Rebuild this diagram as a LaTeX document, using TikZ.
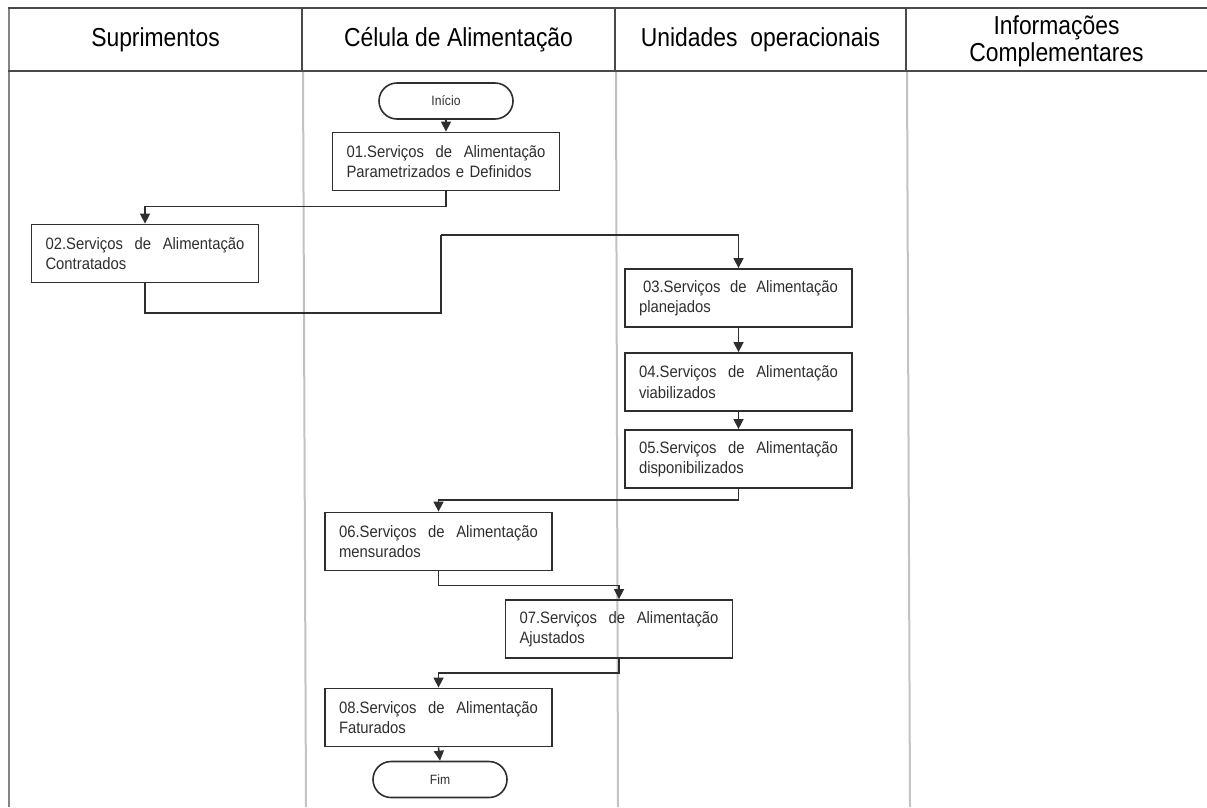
\documentclass[tikz,border=0pt]{standalone}
\usepackage{fontspec}
\setmainfont{Liberation Sans}
\newfontfamily\narrowsans{Liberation Sans}[FakeStretch=0.9]
\newfontfamily\headsans{Liberation Sans}[FakeStretch=0.88]
\usetikzlibrary{arrows.meta}
\definecolor{ink}{HTML}{2E2E2E}
\definecolor{lanerule}{HTML}{C2C2C2}
\definecolor{framerule}{HTML}{858585}
\definecolor{headrule}{HTML}{4A4A4A}
% first line of every process box, spread across the full width
\newcommand\servline[1]{#1.Serviços\hfill de\hfill Alimentação}

\begin{document}
\begin{tikzpicture}[x=1pt,y=-1pt,
  lanehead/.style={font=\headsans\fontsize{26}{27}\selectfont, align=center, text=black, inner sep=0pt},
  procbox/.style={draw=ink, line width=1.8pt, minimum width=227pt, minimum height=58pt,
    text width=199pt, align=left, inner sep=0pt, font=\narrowsans\fontsize{16.5}{20.5}\selectfont, text=ink},
  terminal/.style={draw=ink, line width=1.6pt, rounded corners=18pt, minimum width=134pt,
    minimum height=36pt, inner sep=0pt, font=\narrowsans\fontsize{13.5}{14}\selectfont, text=ink},
  flow/.style={draw=ink, line width=1.5pt, -{Triangle[length=10pt,width=10pt]}},
  link/.style={draw=ink, line width=1.5pt},
  headline/.style={draw=headrule, line width=2.2pt},
  laneline/.style={draw=lanerule, line width=2pt},
  frameline/.style={draw=framerule, line width=2.6pt}]

\useasboundingbox (0,0) rectangle (1207,807);

% swimlane grid
\draw[laneline] (303,71) -- (306,807);
\draw[laneline] (616,71) -- (618,807);
\draw[laneline] (907,71) -- (910,807);
\draw[frameline] (9,8) -- (9,807);
\draw[headline] (8,8) -- (1207,8);
\draw[headline] (8,71) -- (1207,71);
\draw[headline] (302,8) -- (302,71);
\draw[headline] (615,8) -- (615,71);
\draw[headline] (906,8) -- (906,71);

% lane titles
\node[lanehead] (h1) at (155.5,40) {Suprimentos};
\node[lanehead] (h2) at (458.5,40) {Célula de Alimentação};
\node[lanehead] (h3) at (760.5,40) {Unidades\hspace{0.5em}operacionais};
\node[lanehead] (h4) at (1056.5,41) {Informações\\Complementares};

% process steps
\node[terminal] (ini) at (446,101) {Início};
\node[procbox] (b01) at (446,161.5) {\servline{01}\\Parametrizados e Definidos};
\node[procbox] (b02) at (145,253.5) {\servline{02}\\Contratados};
\node[procbox] (b03) at (738.5,298) {\hspace*{4pt}\servline{03}\\planejados};
\node[procbox] (b04) at (738.5,382) {\servline{04}\\viabilizados};
\node[procbox] (b05) at (738.5,459) {\servline{05}\\disponibilizados};
\node[procbox] (b06) at (438.5,541.5) {\servline{06}\\mensurados};
\node[procbox] (b07) at (619,629) {\servline{07}\\Ajustados};
\node[procbox] (b08) at (438.5,717.5) {\servline{08}\\Faturados};
\node[terminal] (fim) at (440,779.5) {Fim};

% routing points of the 02 -> 03 connector
\coordinate (r1) at (441,313);
\coordinate (r2) at (441,235);

% connectors
\draw[flow] (ini.south) -- (b01.north);
\draw[flow] (b01.south) -- ++(0,15) -| (b02.north);
\draw[link] (b02.south) |- (r1) -- (r2);
\draw[flow] (r2) -| (b03.north);
\draw[flow] (b03.south) -- (b04.north);
\draw[flow] (b04.south) -- (b05.north);
\draw[flow] (b05.south) -- ++(0,11) -| (b06.north);
\draw[flow] (b06.south) -- ++(0,14) -| (b07.north);
\draw[flow] (b07.south) -- ++(0,14) -| (b08.north);
\draw[flow] (b08.south) -- (fim.north);
\end{tikzpicture}
\end{document}
